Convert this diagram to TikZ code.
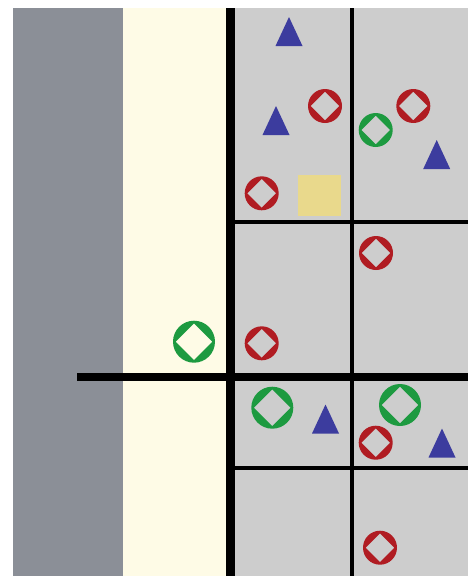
\documentclass[tikz,border=0pt]{standalone}
\usetikzlibrary{shapes.geometric}
\definecolor{leftgray}{HTML}{8B8F97}
\definecolor{cream}{HTML}{FEFBE6}
\definecolor{panel}{HTML}{CDCDCD}
\definecolor{ringred}{HTML}{B01C22}
\definecolor{ringgreen}{HTML}{1D9A40}
\definecolor{triblue}{HTML}{3C3C9E}
\definecolor{boxyellow}{HTML}{E9D98C}
\tikzset{
  ring/.style 2 args={circle, inner sep=0pt, minimum size=#1, draw=none,
    path picture={\fill[#2, even odd rule] (path picture bounding box.center) circle[radius=30pt]
      ([yshift=-2.6pt]path picture bounding box.north) -- ([xshift=-2.6pt]path picture bounding box.east) -- ([yshift=2.6pt]path picture bounding box.south) -- ([xshift=2.6pt]path picture bounding box.west) -- cycle;}},
  redring/.style={ring={34pt}{ringred}},
  greenring/.style={ring={34pt}{ringgreen}},
  biggreen/.style={ring={42pt}{ringgreen}},
  thinline/.style={line width=3.5pt, black},
  thickline/.style={line width=9pt, black},
  tri/.style={fill=triblue},
}
\newcommand\mytri[2]{\fill[tri] ({#1-13.5},{#2+14.5}) -- (#1,{#2-14.5}) -- ({#1+13.5},{#2+14.5}) -- cycle;}
\begin{document}
\begin{tikzpicture}[x=1pt,y=-1pt]
\useasboundingbox (0,0) rectangle (468,576);
\fill[white] (0,0) rectangle (468,576);
\fill[leftgray] (13,8) rectangle (123,576);
\fill[cream] (123,8) rectangle (230,576);
\fill[panel] (230,8) rectangle (468,576);
% thin grid lines
\draw[thinline] (352,8) -- (352,576);
\draw[thinline] (230,222) -- (468,222);
\draw[thinline] (230,468) -- (468,468);
% thick lines
\draw[thickline] (230.5,8) -- (230.5,576);
\draw[line width=8pt] (77,376.5) -- (468,376.5);
% yellow box
\node[fill=boxyellow, inner sep=0pt, minimum width=43pt, minimum height=41pt] (box) at (319.5,195.5) {};
% triangles
\mytri{289}{31.5}
\mytri{276}{120.5}
\mytri{436.7}{154.5}
\mytri{325.5}{419}
\mytri{442}{443}
% red rings
\node[redring] (r1) at (325,106) {};
\node[redring] (r2) at (413.3,106) {};
\node[redring] (r3) at (261.7,193.3) {};
\node[redring] (r4) at (376,253) {};
\node[redring] (r5) at (261.7,343.3) {};
\node[redring] (r6) at (375.7,442.7) {};
\node[redring] (r7) at (380,547.7) {};
% green rings
\node[greenring] (g1) at (375.7,130) {};
\node[biggreen] (g2) at (194,341.7) {};
\node[biggreen] (g3) at (272.3,407.7) {};
\node[biggreen] (g4) at (400,405) {};
\end{tikzpicture}
\end{document}
